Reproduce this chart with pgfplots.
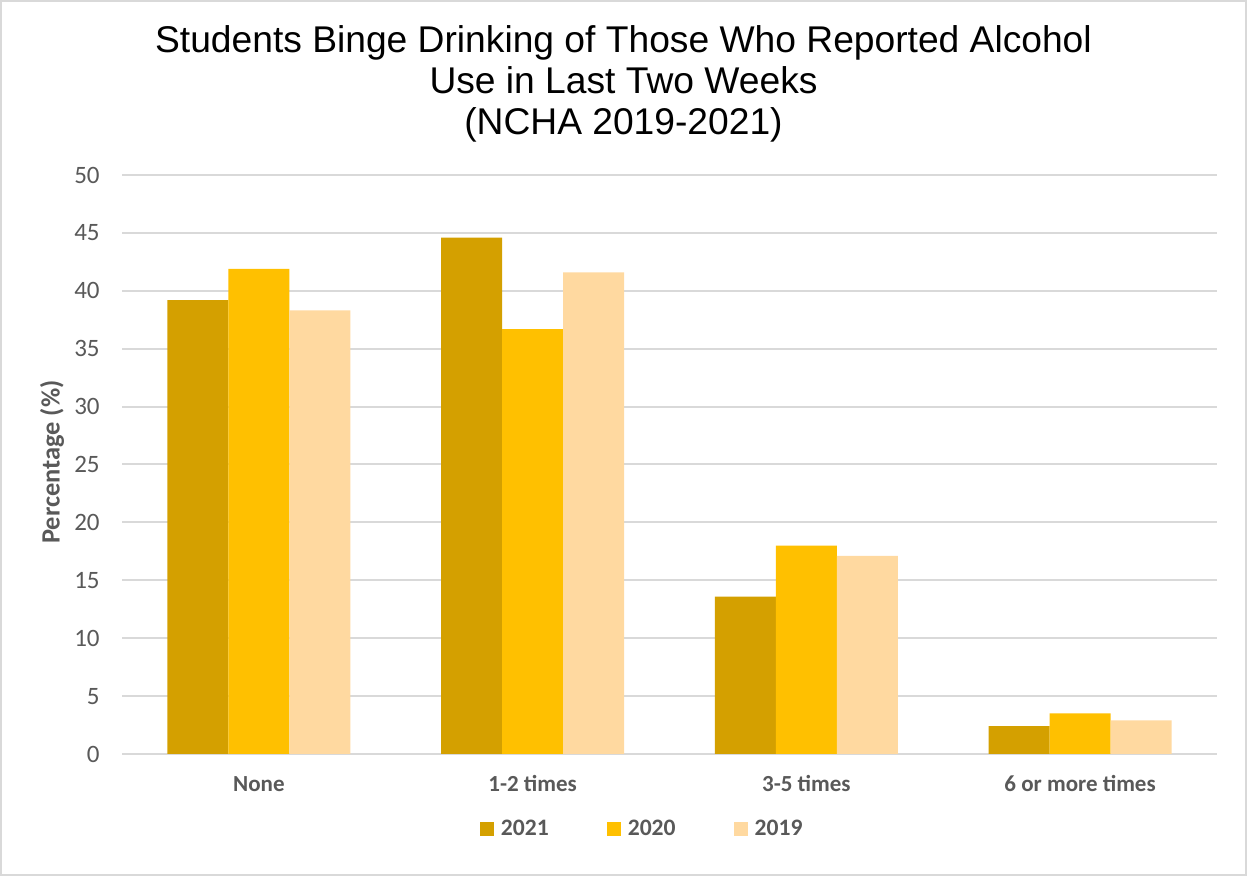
\documentclass[border=0pt]{standalone}
\usepackage{pgfplots}
\pgfplotsset{compat=1.18}
\usepackage{fontspec}
\setmainfont{Carlito}
\newfontfamily\titlefont{Liberation Sans}
\definecolor{c2021}{HTML}{D4A000}
\definecolor{c2020}{HTML}{FFC000}
\definecolor{c2019}{HTML}{FFD9A0}
\definecolor{txtgray}{HTML}{595959}
\definecolor{gridgray}{HTML}{D9D9D9}
\begin{document}
\begin{tikzpicture}
\fill[white] (0,0) rectangle (623.5pt,438pt);
\draw[gridgray, line width=1pt] (0.5pt,0.5pt) rectangle (623pt,437.5pt);
\node[font=\titlefont\fontsize{18.6pt}{20.5pt}\selectfont, align=center, text=black] at (311.75pt,396pt)
{Students Binge Drinking of Those Who Reported Alcohol\\Use in Last Two Weeks\\(NCHA 2019-2021)};
\begin{axis}[
  at={(61pt,61pt)}, anchor=south west,
  scale only axis, width=547.5pt, height=289.5pt,
  xmin=-0.5, xmax=3.5, ymin=0, ymax=50,
  ybar=0pt, bar width=30.5pt,
  xtick={0,1,2,3},
  xticklabels={None,1-2 times,3-5 times,6 or more times},
  ytick={0,5,...,50},
  axis line style={draw=none},
  major tick length=0pt,
  ymajorgrids, grid style={gridgray, line width=1pt},
  /pgf/number format/assume math mode=true,
  yticklabel style={font=\fontsize{12.5pt}{14pt}\selectfont, text=txtgray, anchor=east, inner sep=0pt, xshift=-11pt},
  xticklabel style={font=\bfseries\fontsize{11.5pt}{14pt}\selectfont, text=txtgray, anchor=center, inner sep=0pt, yshift=-15pt},
  legend columns=3,
  legend style={draw=none, fill=none, at={(rel axis cs:0.476,0)}, anchor=center, yshift=-37.5pt,
    font=\bfseries\fontsize{11.8pt}{14pt}\selectfont, text=txtgray,
    /tikz/every odd column/.append style={column sep=1.5pt},
    /tikz/every even column/.append style={column sep=27pt}},
  legend image code/.code={\fill[#1] (0pt,-3.5pt) rectangle (7pt,3.5pt);},
]
\addplot[fill=c2021, draw=none] coordinates {(0,39.2) (1,44.6) (2,13.6) (3,2.4)};
\addplot[fill=c2020, draw=none] coordinates {(0,41.9) (1,36.7) (2,18.0) (3,3.5)};
\addplot[fill=c2019, draw=none] coordinates {(0,38.3) (1,41.6) (2,17.1) (3,2.9)};
\legend{2021,2020,2019}
\end{axis}
\node[rotate=90, font=\bfseries\fontsize{13.2pt}{15pt}\selectfont, text=txtgray, anchor=center]
  at (26pt,207pt) {Percentage (\%)};
\end{tikzpicture}
\end{document}
